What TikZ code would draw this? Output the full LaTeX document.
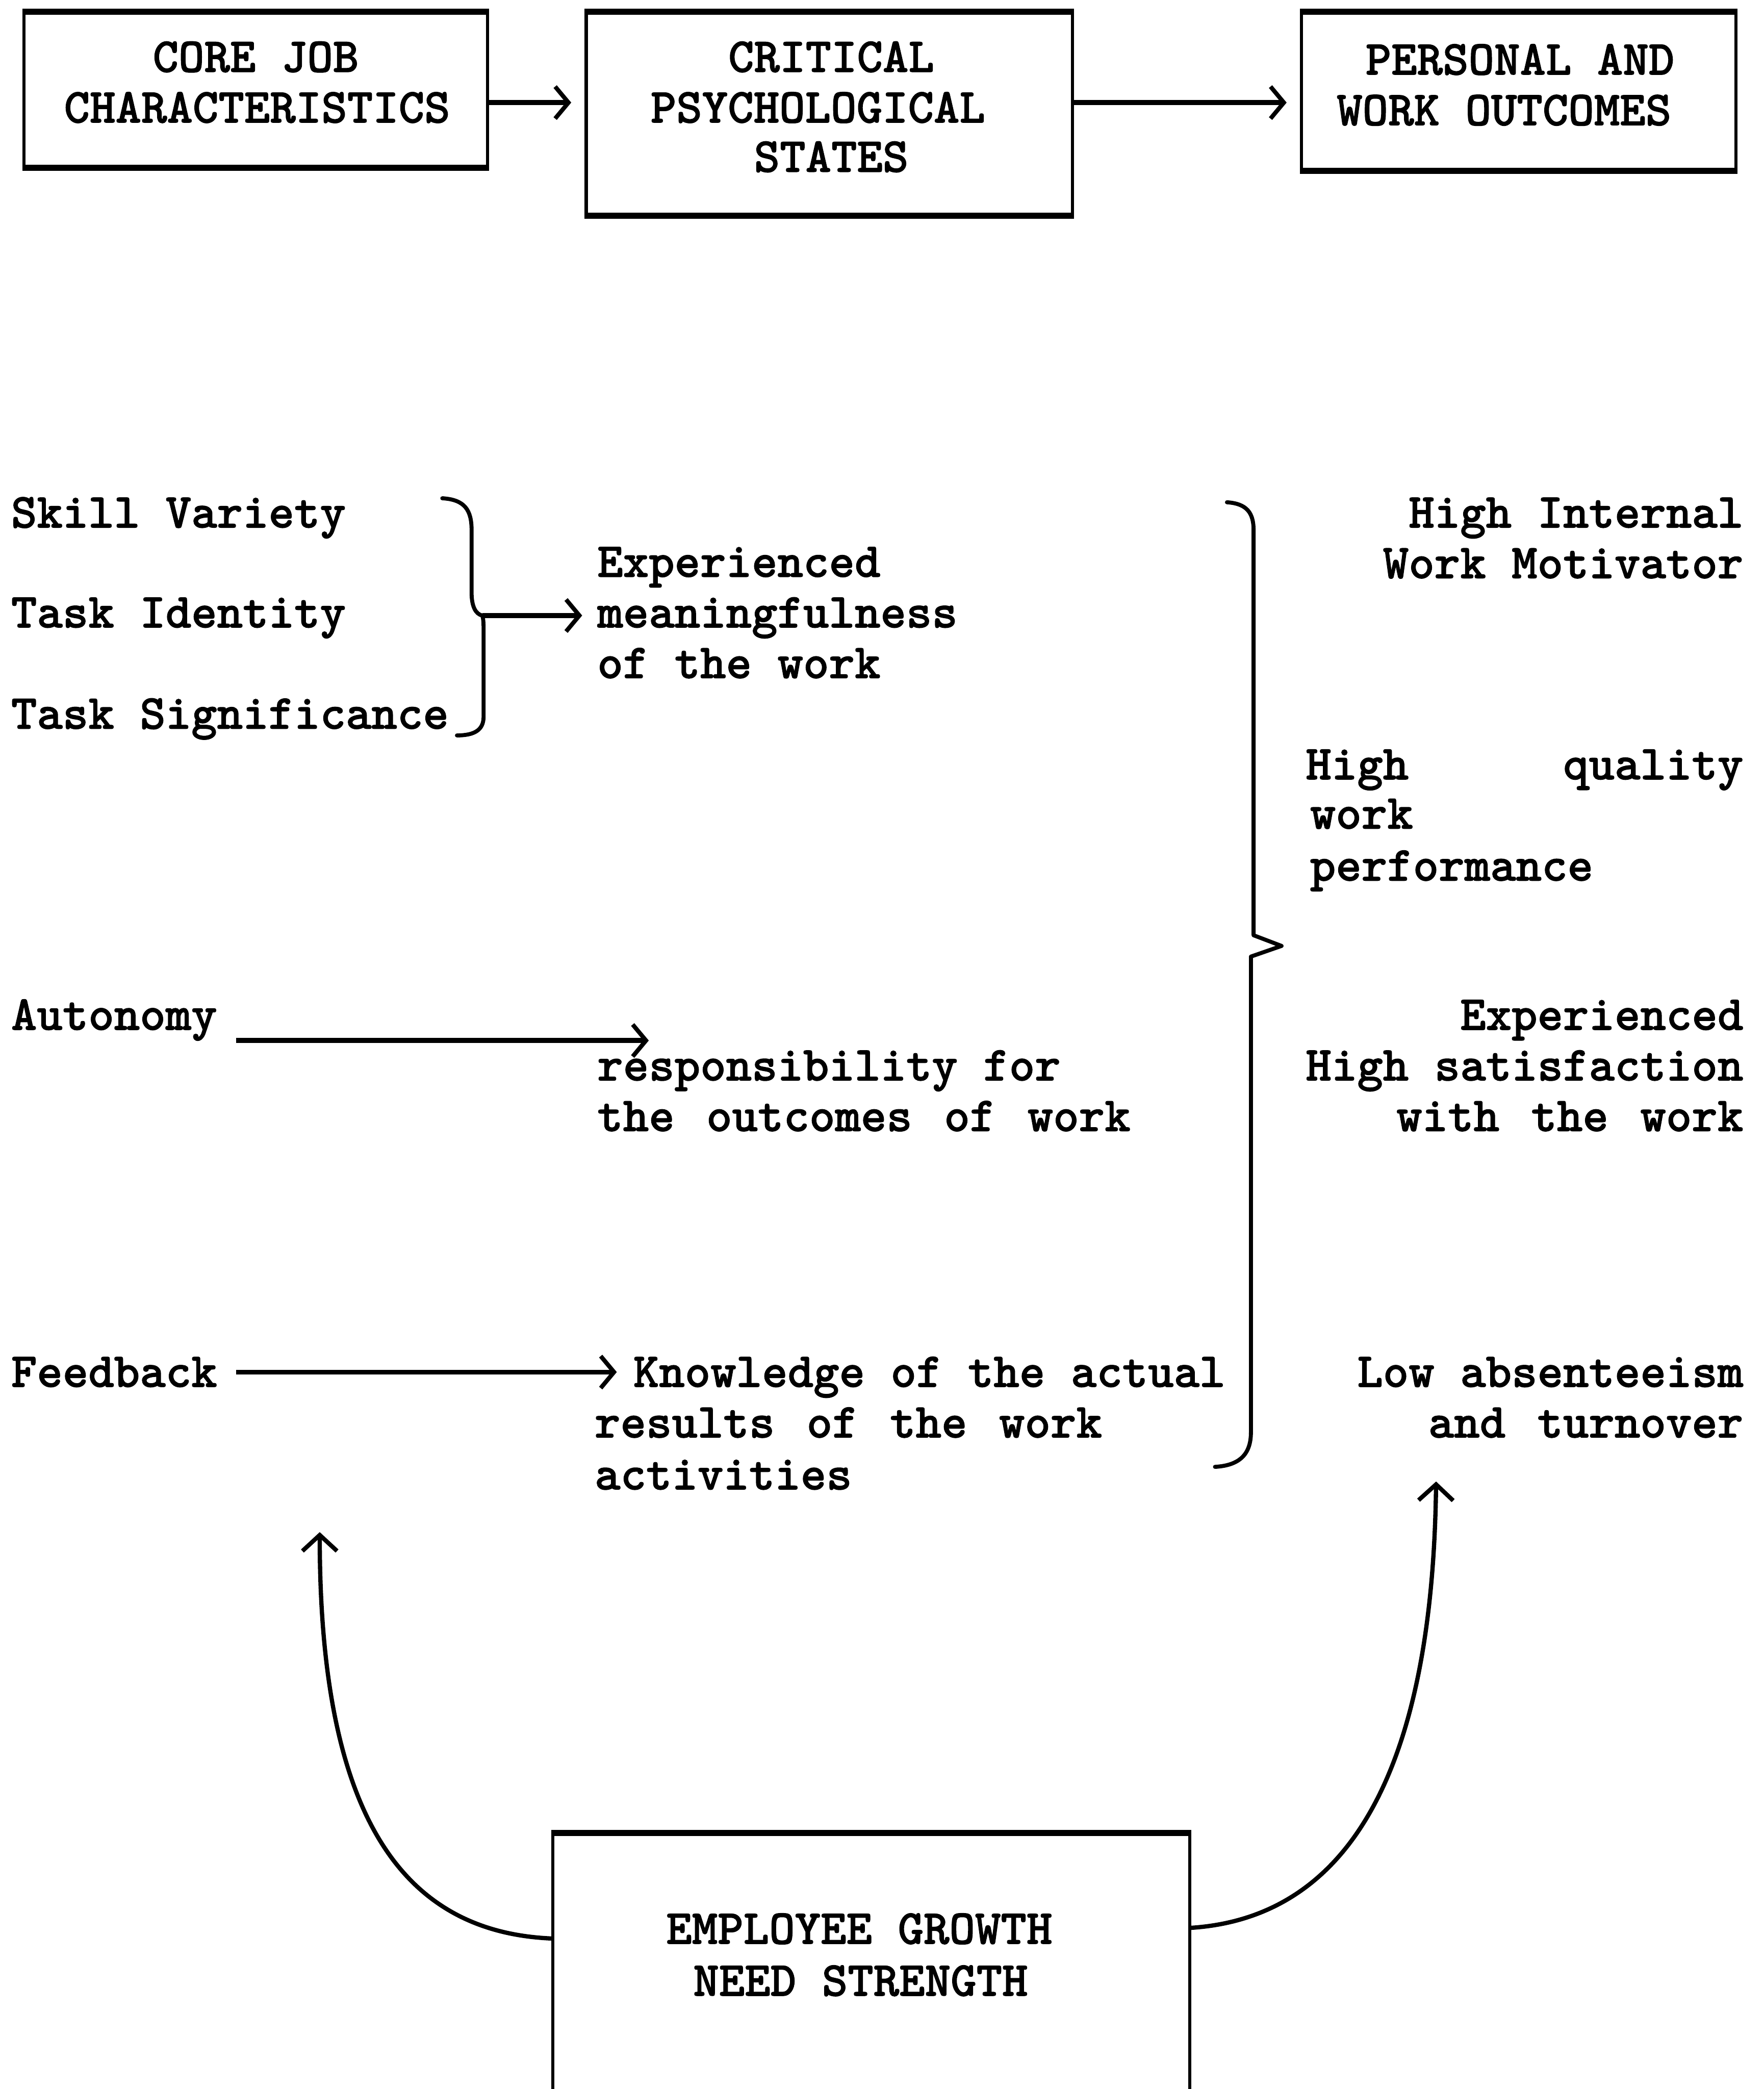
\documentclass[tikz,border=0pt]{standalone}
\usepackage{fontspec}
\newfontfamily\twfont{lmmonolt10-bold.otf}[FakeBold=1.2]
\usetikzlibrary{arrows.meta}
\newcommand\ws{\hspace{0.65em}}
\begin{document}
\begin{tikzpicture}[x=0.5pt,y=-0.5pt,
  tw/.style={font=\fontsize{18.4pt}{19pt}\twfont, inner sep=0pt},
  lt/.style={tw, anchor=base west},
  rt/.style={tw, anchor=base east},
  ct/.style={tw, anchor=base},
  box/.style={draw, line width=1.2pt, inner sep=0pt},
  edge/.style={line width=2.2pt},
  arr/.style={line width=1.8pt, -{Straight Barb[length=5pt,width=12pt,line width=1.6pt]}},
  carr/.style={line width=1.6pt, -{Straight Barb[length=6pt,width=13pt,line width=1.6pt]}},
  brace/.style={line width=1.5pt, line cap=round, line join=round}]
\useasboundingbox (0,0) rectangle (1324,1568);
\clip (0,0) rectangle (1324,1568);

% boxes
\node[box, minimum width=174pt, minimum height=57.5pt] (core) at (192,67.5) {};
\node[box, minimum width=182.5pt, minimum height=75.5pt] (cps) at (622.5,85.5) {};
\node[box, minimum width=163pt, minimum height=58.5pt] (pwo) at (1140,68.5) {};
\node[box, minimum width=239pt, minimum height=120pt] (egns) at (654,1497) {};
\foreach \b in {core,cps,pwo}{
  \draw[edge] (\b.north west) -- (\b.north east);
  \draw[edge] (\b.south west) -- (\b.south east);
}
\draw[edge] (egns.north west) -- (egns.north east);

% box titles
\node[ct] (coreA) at (192,54) {CORE JOB};
\node[ct] (coreB) at (193,92) {CHARACTERISTICS};
\node[ct] (cpsA) at (624,54) {CRITICAL};
\node[ct] (cpsB) at (614,92) {PSYCHOLOGICAL};
\node[ct] (cpsC) at (624,129) {STATES};
\node[ct] (pwoA) at (1141,56) {PERSONAL AND};
\node[ct] (pwoB) at (1129,94) {WORK OUTCOMES};
\node[ct] (egA) at (645,1459) {EMPLOYEE GROWTH};
\node[ct] (egB) at (646,1498) {NEED STRENGTH};

% top arrows
\draw[arr, shorten >=5pt] (core.east |- 0,77) -- (cps.west |- 0,77);
\draw[arr, shorten >=5pt] (cps.east |- 0,77) -- (pwo.west |- 0,77);

% left column
\node[lt] (sv) at (8,396) {Skill Variety};
\node[lt] (ti) at (8,471) {Task Identity};
\node[lt] (ts) at (8,547) {Task Significance};
\node[lt] (auto) at (8,773) {Autonomy};
\node[lt] (fb) at (8,1041) {Feedback};

% middle column
\node[lt] (em1) at (448,433) {Experienced};
\node[lt] (em2) at (448,471) {meaningfulness};
\node[lt] (em3) at (448,509) {of the work};
\node[lt] (rs1) at (448,811) {responsibility for};
\node[lt] (rs2) at (448,849) {the\ws outcomes\ws of\ws work};
\node[lt] (kn1) at (475,1041) {Knowledge of the actual};
\node[lt] (kn2) at (446,1079) {results\ws of\ws the\ws work};
\node[lt] (kn3) at (446,1118) {activities};

% right column
\node[rt] (hi1) at (1309,396) {High Internal};
\node[rt] (hi2) at (1309,434) {Work Motivator};
\node[rt] (hq1) at (1309,585) {High\hspace{3.15em}quality};
\node[lt] (hq2) at (983,622) {work};
\node[lt] (hq3) at (983,661) {performance};
\node[rt] (hs1) at (1309,773) {Experienced};
\node[rt] (hs2) at (1309,811) {High satisfaction};
\node[rt] (hs3) at (1309,849) {with\ws the\ws work};
\node[rt] (la1) at (1309,1041) {Low absenteeism};
\node[rt] (la2) at (1309,1079) {and\ws turnover};

% small brace
\coordinate (bt) at (362,462);
\draw[brace] (332,374) .. controls (349,375) and (354,383) .. (354,398) -- (354,445)
  .. controls (354,455) and (357,461) .. (bt);
\draw[brace] (bt) .. controls (363,465) and (363,468) .. (363,476) -- (363,538)
  .. controls (363,548) and (356,552) .. (343,552);
\draw[arr, shorten >=5.5pt] (bt) -- (bt -| em2.west);

% autonomy arrow
\coordinate (autoTip) at (487,781);
\draw[arr, shorten <=7pt] (auto.east |- autoTip) -- (autoTip);

% feedback arrow
\draw[arr, shorten <=7pt, shorten >=6pt] (fb.east) -- (fb.east -| kn1.west);

% big brace
\draw[brace] (921,377) .. controls (936,378) and (941,385) .. (941,398) -- (941,702)
  -- (962,710) -- (939,718) -- (939,1075) .. controls (939,1092) and (930,1100) .. (912,1101);

% growth need strength arrows
\draw[carr] (egns.west |- 0,1455) .. controls (300,1450) and (240,1360) .. (240,1150);
\draw[carr] (egns.east |- 0,1447) .. controls (1000,1440) and (1075,1350) .. (1078,1112);
\end{tikzpicture}
\end{document}
